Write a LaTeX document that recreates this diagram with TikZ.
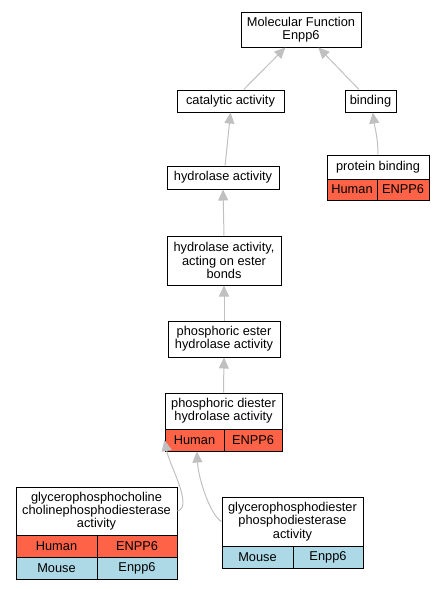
\documentclass[tikz,border=0pt]{standalone}
\usepackage{fontspec}
\setmainfont{Liberation Sans}
\usepackage{tikz}
\usetikzlibrary{arrows.meta}
\usepackage{xcolor}
\definecolor{tomato}{HTML}{FF6347}
\definecolor{lightblue}{HTML}{ADD8E6}
\definecolor{edgegray}{HTML}{C0C0C0}
\newcommand{\gofont}{\fontsize{12.8pt}{13.3pt}\selectfont}

\begin{document}
\begin{tikzpicture}[x=1pt, y=-1pt, >={Triangle[length=11pt,width=10pt]},
  term/.style={draw=black, fill=white, line width=1pt, inner sep=0pt, align=center, font=\gofont},
  human/.style={term, fill=tomato},
  mouse/.style={term, fill=lightblue},
  edge/.style={draw=edgegray, line width=1pt, ->}]
  \useasboundingbox (0,0) rectangle (444,589);
  \node[term, minimum width=120pt, minimum height=35pt] (mf) at (301,29.5) {Molecular Function\\Enpp6};
  \node[term, minimum width=107pt, minimum height=22pt] (cat) at (230.5,101) {catalytic activity};
  \node[term, minimum width=51pt, minimum height=22pt] (bind) at (370.5,101) {binding};
  \node[term, minimum width=112pt, minimum height=23pt] (hyd) at (223,177.5) {hydrolase activity};
  \node[term, minimum width=102pt, minimum height=24pt] (pb) at (378,167) {protein binding};
  \node[human, minimum width=50pt, minimum height=21pt] (pbH) at (352,189.5) {Human};
  \node[human, minimum width=52pt, minimum height=21pt] (pbE) at (403,189.5) {ENPP6};
  \node[term, minimum width=114pt, minimum height=49pt] (ester) at (224,260.5) {hydrolase activity,\\acting on ester\\bonds};
  \node[term, minimum width=112pt, minimum height=36pt] (pest) at (224,339) {phosphoric ester\\hydrolase activity};
  \node[term, minimum width=117pt, minimum height=36pt] (pd) at (223.5,411) {phosphoric diester\\hydrolase activity};
  \node[human, minimum width=59pt, minimum height=22pt] (pdH) at (194.5,440) {Human};
  \node[human, minimum width=58pt, minimum height=22pt] (pdE) at (253,440) {ENPP6};
  \node[term, minimum width=161pt, minimum height=48pt] (gpc) at (96.5,511) {glycerophosphocholine\\cholinephosphodiesterase\\activity};
  \node[human, minimum width=81pt, minimum height=22pt] (gpcH) at (56.5,546) {Human};
  \node[human, minimum width=80pt, minimum height=22pt] (gpcE) at (137,546) {ENPP6};
  \node[mouse, minimum width=81pt, minimum height=22pt] (gpcM) at (56.5,568) {Mouse};
  \node[mouse, minimum width=80pt, minimum height=22pt] (gpcN) at (137,568) {Enpp6};
  \node[term, minimum width=141pt, minimum height=49pt] (gpd) at (292.5,521.5) {glycerophosphodiester\\phosphodiesterase\\activity};
  \node[mouse, minimum width=71pt, minimum height=22pt] (gpdM) at (257.5,557) {Mouse};
  \node[mouse, minimum width=70pt, minimum height=22pt] (gpdN) at (328,557) {Enpp6};
  \draw[edge] (cat.41) -- (mf.229);
  \draw[edge] (bind.135) -- (mf.314);
  \draw[edge] (hyd.80) -- (cat.south);
  \draw[edge] (pb.north) to[out=-90+180, in=-82] (bind.-79);
  \draw[edge] (ester.north) -- (hyd.south);
  \draw[edge] (pest.north) -- (ester.south);
  \draw[edge] (pd.north) -- (pest.south);
  \draw[edge] (gpc.east) .. controls +(16,-4) and +(5,25) .. (pdH.west);
  \draw[edge] (gpd.west) .. controls +(-10,-5) and +(2,30) .. (pdH.-79);
\end{tikzpicture}
\end{document}
